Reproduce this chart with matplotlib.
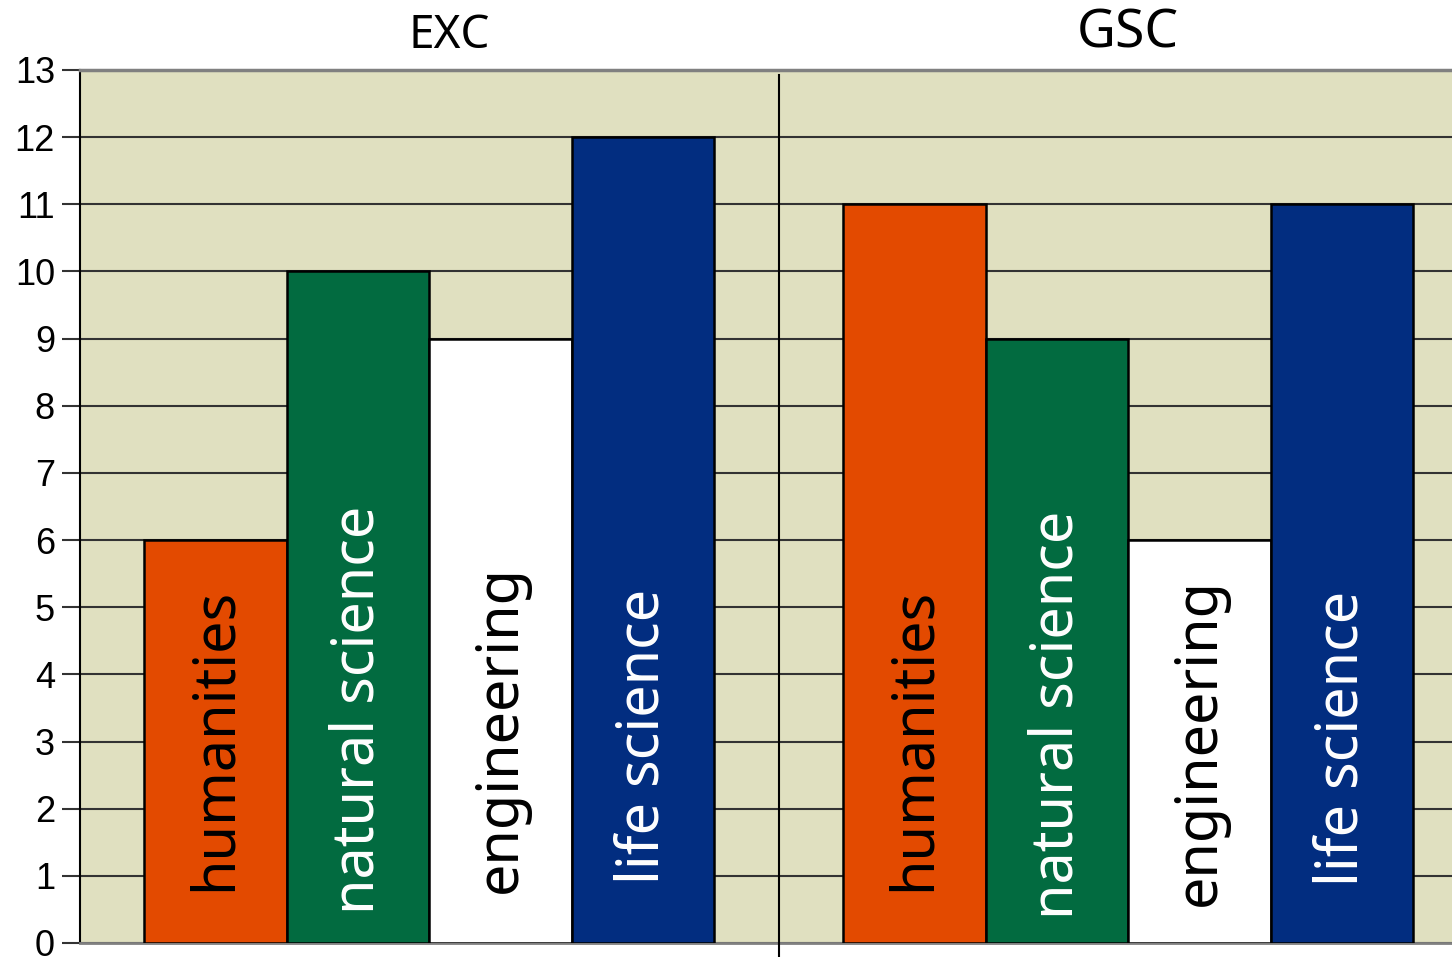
import matplotlib
matplotlib.use("Agg")
import matplotlib.pyplot as plt
import numpy as np

groups = ["EXC", "GSC"]
categories = ["humanities", "natural science", "engineering", "life science"]
values_exc = [6, 10, 9, 12]
values_gsc = [11, 9, 6, 11]
yticks = list(range(0, 14))

# styling / layout
bar_colors = ["#E34A00", "#026B40", "#FFFFFF", "#022D80"]
text_colors = ["black", "white", "black", "white"]
label_centers = [[3.03, 3.47, 3.19, 3.08], [3.03, 3.40, 2.99, 3.04]]

fig = plt.figure(figsize=(14.52, 9.57), dpi=100)
ax = fig.add_axes([80/1452, 14/957, 1 - 80/1452, (943-70)/957])
ax.set_facecolor("#E0E0C0")

bar_px = 142.5
group_step = 699 / bar_px
n = len(categories)
all_vals = [values_exc, values_gsc]

ax.set_ylim(0, 13)
ax.set_xlim(-64/bar_px, (1452-144)/bar_px)
ax.set_yticks(yticks)
ax.yaxis.grid(True, color="#333333", linewidth=1.5, zorder=0)
ax.set_axisbelow(True)

for g, vals in enumerate(all_vals):
    x0 = g * group_step
    xs = x0 + np.arange(n) + 0.5
    ax.bar(xs, vals, width=1.0, color=bar_colors, edgecolor="black",
           linewidth=1.8, zorder=3)
    for xi, cat, tc, yc in zip(xs, categories, text_colors, label_centers[g]):
        ax.text(xi, yc, cat, rotation=90, ha="center", va="center",
                color=tc, fontsize=41.5, family="Noto Sans", zorder=4)

# group titles
ax.text((449-144)/bar_px, 13.33, groups[0], ha="center", va="baseline",
        fontsize=33, family="Noto Sans")
ax.text(group_step + 2, 13.33, groups[1], ha="center", va="baseline",
        fontsize=38.5, family="Noto Sans")

# separator
xd = (n + group_step) / 2
ax.plot([xd, xd], [-0.21, 12.92], color="black", linewidth=1.5,
        clip_on=False, zorder=5)

ax.spines["right"].set_visible(False)
ax.spines["top"].set_color("#808080")
ax.spines["top"].set_linewidth(2.5)
ax.spines["bottom"].set_color("#808080")
ax.spines["bottom"].set_linewidth(2.0)
ax.spines["left"].set_color("black")
ax.spines["left"].set_linewidth(1.5)
ax.set_xticks([])
ax.tick_params(axis="y", length=13, width=1.5, color="#333333", pad=5,
               labelsize=26)
for lab in ax.get_yticklabels():
    lab.set_family("Liberation Sans")

fig.savefig("out.png", dpi=100)
